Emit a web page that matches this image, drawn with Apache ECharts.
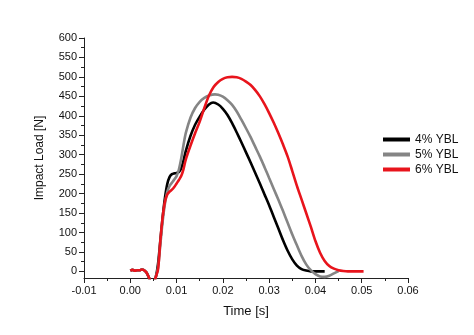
<!DOCTYPE html>
<html>
<head>
<meta charset="utf-8">
<script src="https://cdn.jsdelivr.net/npm/echarts@6/dist/echarts.min.js"></script>
<style>
html,body{margin:0;padding:0;background:#fff;}
#chart{width:474px;height:335px;}
</style>
</head>
<body>
<div id="chart"></div>
<script>
const seriesNames = ['4% YBL', '5% YBL', '6% YBL'];
const seriesColors = ['#000000', '#858585', '#e8141c'];

const time4 = [0, 0.0005, 0.001, 0.0015, 0.002, 0.0025, 0.003, 0.0035, 0.004, 0.0045, 0.005, 0.0055, 0.006, 0.0065, 0.007, 0.0075, 0.008, 0.0085, 0.009, 0.0095, 0.010, 0.0105, 0.011, 0.0115, 0.012, 0.013, 0.014, 0.015, 0.016, 0.017, 0.0179, 0.019, 0.020, 0.021, 0.022, 0.023, 0.024, 0.025, 0.026, 0.027, 0.028, 0.029, 0.030, 0.031, 0.032, 0.033, 0.034, 0.035, 0.036, 0.037, 0.038, 0.039, 0.042];
const load4 = [2, 4, 2, 3, 3, 5, 3, -3, -15, -28, -28, -15, 20, 80, 140, 190, 225, 243, 250, 252, 253, 255, 265, 285, 310, 348, 377, 398, 416, 429, 434, 429, 418, 402, 381, 357, 332, 306, 280, 253, 226, 198, 170, 140, 110, 80, 53, 31, 15, 6, 2, 0, 0];

const time5 = [0, 0.0005, 0.001, 0.0015, 0.002, 0.0025, 0.003, 0.0035, 0.004, 0.0045, 0.005, 0.0055, 0.006, 0.0065, 0.007, 0.0075, 0.008, 0.0085, 0.009, 0.0095, 0.010, 0.0105, 0.011, 0.0115, 0.012, 0.013, 0.014, 0.015, 0.016, 0.017, 0.0183, 0.019, 0.020, 0.021, 0.022, 0.023, 0.024, 0.025, 0.026, 0.027, 0.028, 0.029, 0.030, 0.031, 0.032, 0.033, 0.034, 0.035, 0.036, 0.037, 0.038, 0.039, 0.040, 0.041, 0.042, 0.043, 0.044, 0.045];
const load5 = [2, 4, 2, 3, 3, 5, 3, -3, -15, -28, -28, -15, 10, 70, 130, 175, 205, 220, 228, 236, 245, 262, 290, 325, 356, 395, 420, 436, 446, 452, 455, 454, 449, 440, 428, 411, 390, 368, 345, 320, 295, 268, 240, 212, 184, 155, 125, 95, 67, 40, 18, 3, -7, -13, -14, -11, -5, 1];

const time6 = [0, 0.0005, 0.001, 0.0015, 0.002, 0.0025, 0.003, 0.0035, 0.004, 0.0045, 0.005, 0.0055, 0.006, 0.0065, 0.007, 0.0075, 0.008, 0.0085, 0.009, 0.0095, 0.010, 0.0105, 0.011, 0.0115, 0.012, 0.013, 0.014, 0.015, 0.016, 0.017, 0.018, 0.019, 0.020, 0.021, 0.022, 0.023, 0.024, 0.025, 0.026, 0.027, 0.028, 0.029, 0.030, 0.031, 0.032, 0.033, 0.034, 0.035, 0.036, 0.037, 0.038, 0.039, 0.040, 0.041, 0.042, 0.043, 0.044, 0.045, 0.046, 0.047, 0.0504];
const load6 = [2, 4, 2, 3, 3, 5, 3, -3, -15, -28, -28, -15, 5, 80, 140, 180, 198, 205, 210, 217, 226, 235, 245, 263, 288, 323, 355, 385, 420, 452, 474, 487, 495, 499, 500, 499, 495, 488, 479, 466, 450, 430, 407, 382, 355, 326, 295, 258, 220, 185, 150, 115, 78, 48, 27, 14, 7, 3, 1, 0, 0];

const yMajorTicks = [0, 50, 100, 150, 200, 250, 300, 350, 400, 450, 500, 550, 600];
const yMinorTicks = [25, 75, 125, 175, 225, 275, 325, 375, 425, 475, 525, 575];

function pairs(t, v) { return t.map((x, i) => [x, v[i]]); }
const dataSets = [pairs(time4, load4), pairs(time5, load5), pairs(time6, load6)];

const chart = echarts.init(document.getElementById('chart'));
const font = 'Liberation Sans, Arial, sans-serif';

chart.setOption({
  animation: false,
  backgroundColor: '#fff',
  grid: { left: 84, right: 66, top: 38, bottom: 57, containLabel: false },
  legend: {
    orient: 'vertical',
    left: 383, top: 133, padding: 0,
    itemWidth: 27, itemHeight: 4, itemGap: 2,
    icon: 'rect',
    textStyle: { fontFamily: font, fontSize: 12, color: '#111', padding: [0, 0, 0, 0], lineHeight: 13 },
    data: seriesNames
  },
  xAxis: {
    type: 'value', min: -0.01, max: 0.06, interval: 0.01,
    name: 'Time [s]', nameLocation: 'middle', nameGap: 27,
    nameTextStyle: { fontFamily: font, fontSize: 13, color: '#111' },
    axisLine: { onZero: false, lineStyle: { color: '#222', width: 1 } },
    axisTick: { show: true, length: 5, lineStyle: { color: '#222' } },
    minorTick: { show: true, splitNumber: 2, length: 3, lineStyle: { color: '#222' } },
    splitLine: { show: false },
    axisLabel: { fontFamily: font, fontSize: 11, color: '#111', margin: 7,
      formatter: v => v.toFixed(2) }
  },
  yAxis: [{
    type: 'value', min: -17, max: 600,
    name: 'Impact Load [N]', nameLocation: 'middle', nameGap: 38,
    nameTextStyle: { fontFamily: font, fontSize: 12, color: '#111' },
    axisLine: { show: true, onZero: false, lineStyle: { color: '#222', width: 1 } },
    axisTick: { show: true, length: 5, customValues: yMajorTicks, lineStyle: { color: '#222' } },
    splitLine: { show: false },
    axisLabel: { fontFamily: font, fontSize: 11, color: '#111', margin: 7, customValues: yMajorTicks }
  }, {
    type: 'value', min: -17, max: 600, position: 'left',
    axisLine: { show: false, onZero: false },
    axisTick: { show: true, length: 3, customValues: yMinorTicks, lineStyle: { color: '#222' } },
    axisLabel: { show: false },
    splitLine: { show: false }
  }],
  series: dataSets.map((d, i) => ({
    name: seriesNames[i],
    type: 'line',
    data: d,
    yAxisIndex: 0,
    smooth: 0.3,
    showSymbol: false,
    symbol: 'none',
    clip: true,
    color: seriesColors[i],
    lineStyle: { color: seriesColors[i], width: 2.6 },
    z: 2 + i
  }))
});
</script>
</body>
</html>
